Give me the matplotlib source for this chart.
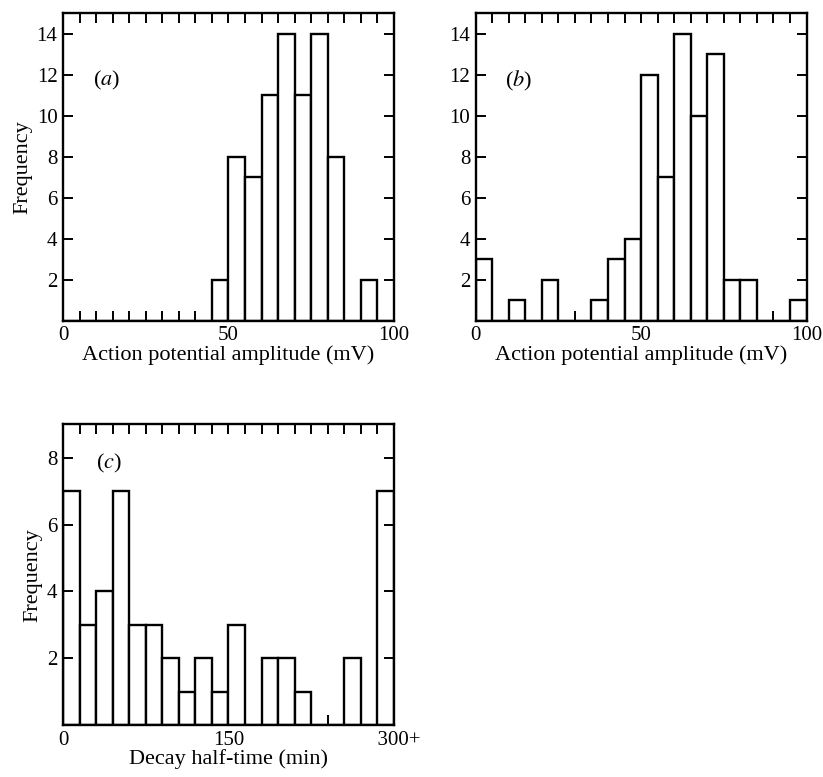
import matplotlib.pyplot as plt
import numpy as np

plt.rcParams['font.family'] = ['Liberation Serif', 'DejaVu Serif']
plt.rcParams['mathtext.fontset'] = 'stix'

# bin edges / counts
amp_edges = np.arange(0, 105, 5)
amp_a = [0, 0, 0, 0, 0, 0, 0, 0, 0, 2, 8, 7, 11, 14, 11, 14, 8, 0, 2, 0]
amp_b = [3, 0, 1, 0, 2, 0, 0, 1, 3, 4, 12, 7, 14, 10, 13, 2, 2, 0, 0, 1]

decay_edges = np.arange(0, 315, 15)
decay_c = [7, 3, 4, 7, 3, 3, 2, 1, 2, 1, 3, 0, 2, 2, 1, 0, 0, 2, 0, 7]

amp_ticks = [0, 50, 100]
amp_ticklabels = ['0', '50', '100']
decay_ticks = [0, 150, 300]
decay_ticklabels = ['0', '150', '  300+']

fig = plt.figure(figsize=(8.23, 7.77), dpi=100)
ax_a = fig.add_axes([0.0766, 0.587, 0.402, 0.396])
ax_b = fig.add_axes([0.578, 0.587, 0.402, 0.396])
ax_c = fig.add_axes([0.0766, 0.0669, 0.402, 0.387])


def histo(ax, edges, counts, ymax, yticks, xticks, xticklabels, xlabel, tag, tagpos, ylab):
    w = edges[1] - edges[0]
    ax.bar(edges[:-1], counts, width=w, align='edge', facecolor='white',
           edgecolor='black', linewidth=1.7)
    ax.set_xlim(edges[0], edges[-1])
    ax.set_ylim(0, ymax)
    ax.set_yticks(yticks)
    ax.set_yticklabels([str(t) for t in yticks], fontsize=15)
    ax.set_xticks(xticks)
    ax.set_xticklabels(xticklabels, fontsize=15)
    ax.set_xticks(edges, minor=True)
    ax.tick_params(which='both', direction='in', top=True, right=True,
                   length=7, width=1.4, pad=4)
    for s in ax.spines.values():
        s.set_linewidth(1.7)
    ax.set_xlabel(xlabel, fontsize=16, labelpad=0)
    if ylab:
        ax.set_ylabel('Frequency', fontsize=16, labelpad=3)
    ax.text(tagpos[0], tagpos[1], '(' + r'$\mathit{' + tag + '}$' + ')', transform=ax.transAxes,
            fontsize=16, va='center')


histo(ax_a, amp_edges, amp_a, 15, [2, 4, 6, 8, 10, 12, 14], amp_ticks, amp_ticklabels,
      'Action potential amplitude (mV)', 'a', (0.09, 0.78), True)
histo(ax_b, amp_edges, amp_b, 15, [2, 4, 6, 8, 10, 12, 14], amp_ticks, amp_ticklabels,
      'Action potential amplitude (mV)', 'b', (0.09, 0.78), False)
histo(ax_c, decay_edges, decay_c, 9, [2, 4, 6, 8], decay_ticks, decay_ticklabels,
      'Decay half-time (min)', 'c', (0.10, 0.87), True)

fig.savefig('out.png', dpi=100)
